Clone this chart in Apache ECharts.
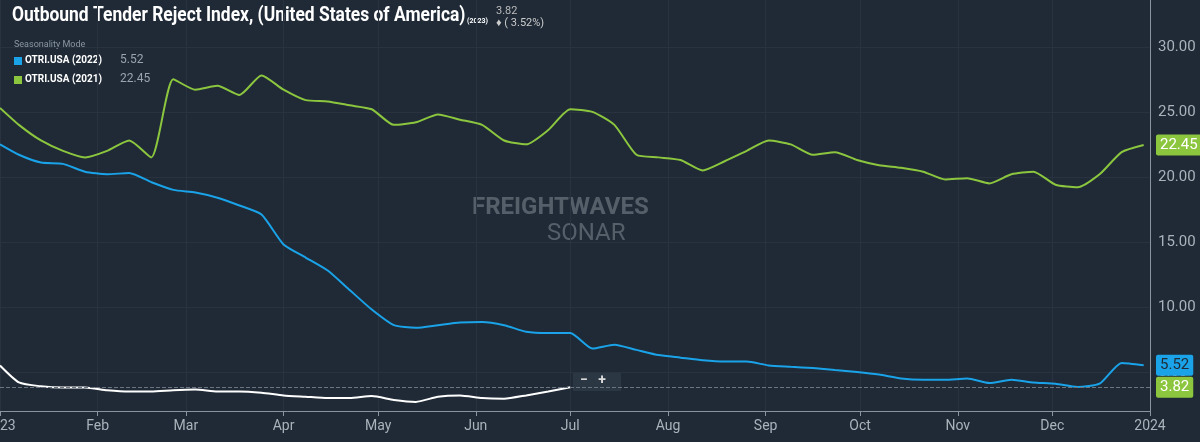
<!DOCTYPE html>
<html lang="en">
<head>
<meta charset="UTF-8">
<title>OTRI</title>
<style>*{padding:0;margin:0;} body{background:#1f2a36;}</style>
<script src="https://cdn.jsdelivr.net/npm/echarts@6/dist/echarts.min.js"></script>
</head>
<body>
<div id="main" style="width:1200px;height:442px;"></div>
<script>
// weekly sample dates, from Jan 1
var weeks = ['01-01','01-07','01-14','01-21','01-28','02-04','02-11','02-18','02-25','03-04','03-11','03-18','03-25',
  '04-01','04-08','04-15','04-22','04-29','05-06','05-13','05-20','05-27','06-03','06-10','06-17','06-24','07-01',
  '07-08','07-15','07-22','07-29','08-05','08-12','08-19','08-26','09-02','09-09','09-16','09-23','09-30',
  '10-07','10-14','10-21','10-28','11-04','11-11','11-18','11-25','12-02','12-09','12-16','12-23','12-30'];
var otri2021 = [25.3,24,22.8,22,21.5,22,22.8,21.5,27.5,26.7,27,26.3,27.8,26.7,25.9,25.8,25.5,25.2,24,24.2,24.8,24.4,24,22.8,22.5,23.6,25.2,
  25,24,21.7,21.5,21.3,20.5,21.2,22,22.8,22.5,21.7,21.9,21.3,20.9,20.7,20.4,19.8,19.9,19.5,20.2,20.4,19.4,19.2,20.2,21.9,22.45];
var otri2022 = [22.5,21.7,21.1,21,20.4,20.2,20.3,19.6,19,18.8,18.4,17.8,17.1,14.8,13.8,12.8,11.3,9.8,8.6,8.4,8.6,8.8,8.85,8.6,8.1,8,8,
  6.8,7.1,6.7,6.3,6.1,5.9,5.8,5.8,5.5,5.4,5.3,5.15,5,4.8,4.5,4.4,4.4,4.5,4.15,4.4,4.2,4.1,3.85,4.1,5.7,5.52];
var otri2023 = [5.5,4.2,3.9,3.8,3.8,3.6,3.5,3.5,3.6,3.65,3.5,3.5,3.4,3.2,3.1,3.0,3.0,3.15,2.85,2.7,3.1,3.2,3.0,2.95,3.2,3.5,3.82];
var yTicks = [5,10,15,20,25,30];

function toSeries(vals){ return vals.map(function(v,i){ return ['2023-' + weeks[i], v]; }); }
function tag(val, bg, fg, dashed){
  return { silent:true, symbol:'none',
    lineStyle: dashed ? {color:'#6a7580', type:'dashed', width:1} : {color:'rgba(0,0,0,0)'},
    data:[{yAxis:val, label:{show:true, position:'end', formatter:val.toFixed(2), backgroundColor:bg, color:fg,
      fontSize:15, padding:[3,4], borderRadius:2, distance:6}}] };
}

var myChart = echarts.init(document.getElementById('main'));
myChart.setOption({
  backgroundColor:'#1f2a36',
  animation:false,
  textStyle:{fontFamily:'Roboto'},
  graphic:[
    {type:'text', x:12, y:5, scaleX:0.83, style:{text:'Outbound Tender Reject Index, (United States of America)', fill:'#fff', font:'bold 21px Roboto'}},
    {type:'text', left:467, top:18, style:{text:'(2023)', fill:'#fff', font:'bold 7px Roboto'}},
    {type:'text', left:496, top:6, style:{text:'3.82', fill:'#bbb', font:'11px Roboto'}},
    {type:'text', left:496, top:18, style:{text:'♦ ( 3.52%)', fill:'#ccc', font:'11px Roboto'}},
    {type:'text', left:14, top:40, style:{text:'Seasonality Mode', fill:'#8a96a3', font:'9px Roboto'}},
    {type:'rect', shape:{x:14, y:57, width:8, height:8}, style:{fill:'#1aa3e8'}},
    {type:'text', left:25, top:55, style:{text:'OTRI.USA (2022)', fill:'#fff', font:'bold 10px Roboto'}},
    {type:'text', left:120, top:54, style:{text:'5.52', fill:'#9aa4ae', font:'12px Roboto'}},
    {type:'rect', shape:{x:14, y:76, width:8, height:8}, style:{fill:'#8cc63f'}},
    {type:'text', left:25, top:74, style:{text:'OTRI.USA (2021)', fill:'#fff', font:'bold 10px Roboto'}},
    {type:'text', left:120, top:73, style:{text:'22.45', fill:'#9aa4ae', font:'12px Roboto'}},
    {type:'text', left:472, top:196, style:{text:'FREIGHTWAVES', fill:'rgba(150,160,170,0.45)', font:'bold 24px Roboto'}},
    {type:'text', left:547, top:222, style:{text:'SONAR', fill:'rgba(150,160,170,0.45)', font:'24px Roboto'}},
    {type:'rect', shape:{x:573, y:373, width:48, height:18}, style:{fill:'#2c3744'}},
    {type:'text', left:580, top:373, style:{text:'−   +', fill:'#ddd', font:'bold 14px Roboto'}}
  ],
  grid:{left:0, right:50, top:0, bottom:31, outerBoundsMode:'none'},
  xAxis:{type:'time', min:'2023-01-01', max:'2024-01-01', splitNumber:12,
    axisLine:{lineStyle:{color:'#8a949e'}}, axisTick:{lineStyle:{color:'#8a949e'}},
    axisLabel:{color:'#aab3bc', fontSize:14, showMinLabel:true, showMaxLabel:true, formatter:{year:'{yyyy}', month:'{MMM}'}},
    splitLine:{show:true, lineStyle:{color:'#28333f'}}},
  yAxis:{type:'value', position:'right', min:2, max:33.6,
    axisLine:{show:true, lineStyle:{color:'#8a949e'}},
    axisTick:{show:false, customValues:yTicks},
    axisLabel:{color:'#aab3bc', fontSize:15, customValues:yTicks, formatter:function(v){return v.toFixed(2);}},
    splitLine:{show:true, lineStyle:{color:'#28333f'}}},
  series:[
    {name:'OTRI.USA (2021)', type:'line', data:toSeries(otri2021), showSymbol:false, smooth:0.2,
      lineStyle:{color:'#8cc63f', width:2}, itemStyle:{color:'#8cc63f'}, markLine:tag(22.45,'#8cc63f','#fff')},
    {name:'OTRI.USA (2022)', type:'line', data:toSeries(otri2022), showSymbol:false, smooth:0.2,
      lineStyle:{color:'#1aa3e8', width:2}, itemStyle:{color:'#1aa3e8'}, markLine:tag(5.52,'#1aa3e8','#1f2a36')},
    {name:'OTRI.USA (2023)', type:'line', data:toSeries(otri2023), showSymbol:false, smooth:0.2,
      lineStyle:{color:'#ffffff', width:2}, itemStyle:{color:'#fff'}, markLine:tag(3.82,'#8cc63f','#fff',true)}
  ]
});
</script>
</body>
</html>
